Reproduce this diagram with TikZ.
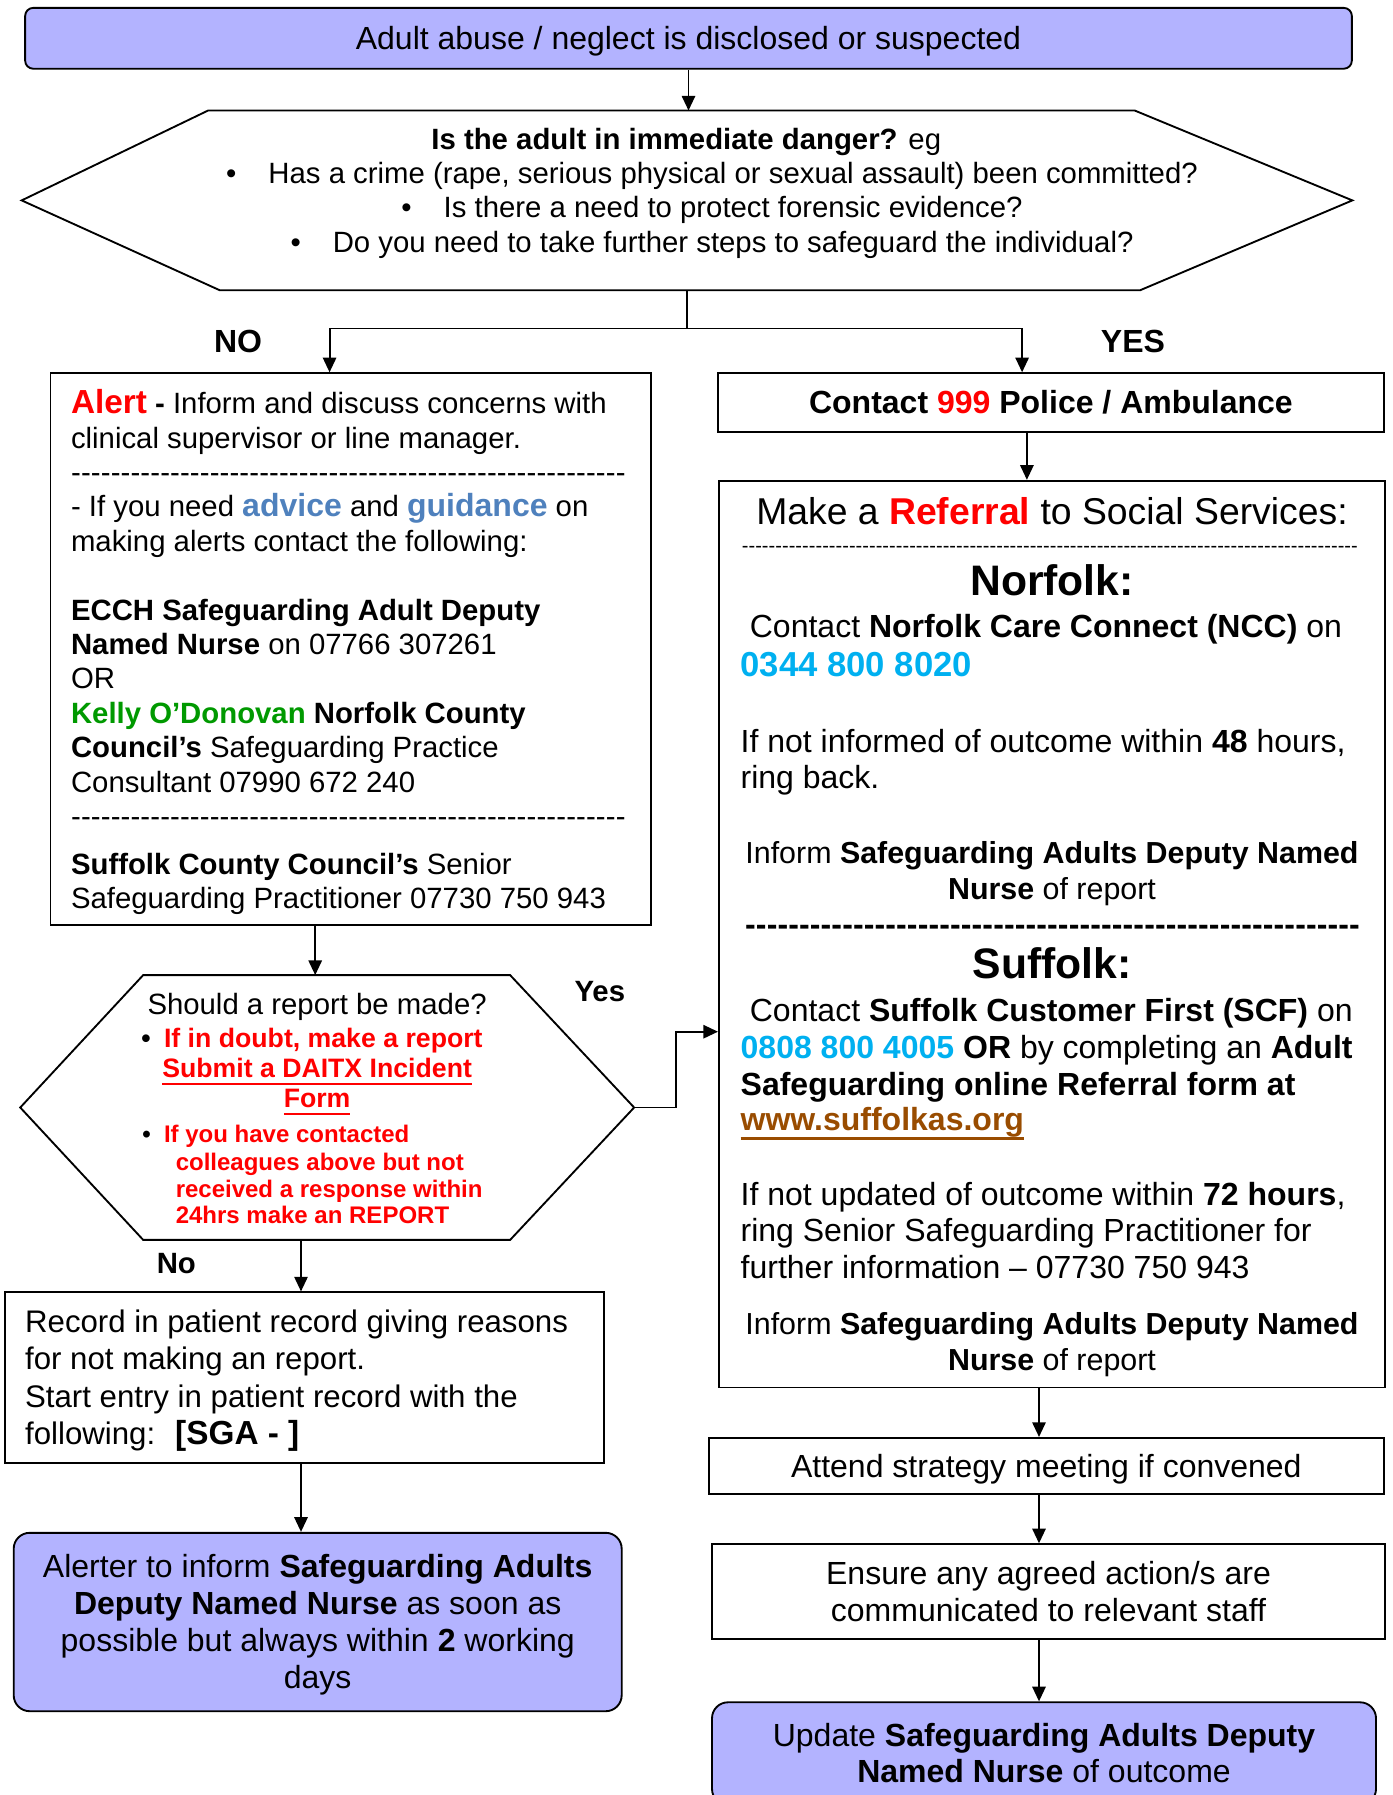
\documentclass[tikz,border=0pt]{standalone}
\usepackage{fontspec}
\setmainfont{Liberation Sans}
\usetikzlibrary{arrows.meta}
\setlength{\parindent}{0pt}

\definecolor{lavender}{RGB}{179,179,255}
\definecolor{alertred}{RGB}{255,0,0}
\definecolor{adviceblue}{RGB}{79,129,189}
\definecolor{kellygreen}{RGB}{0,153,0}
\definecolor{phonecyan}{RGB}{0,176,240}
\definecolor{linkbrown}{RGB}{153,76,0}

\newsavebox{\ulsave}
\newcommand{\midline}[2][\hsize]{\makebox[#1]{#2}}
\newcommand{\dashrow}[1]{\makebox[#1][l]{\xleaders\hbox{-}\hfill}}
\newcommand{\ulbar}[2]{\leavevmode\sbox\ulsave{#2}\rlap{\rule[#1]{\wd\ulsave}{0.9pt}}\usebox\ulsave}
\newcommand{\hang}[1]{\leavevmode\llap{\color{black}\textbullet\hspace{#1}}}
\newcommand{\wtop}{\rule{0pt}{0.905em}}
\newcommand{\wbot}{\rule[-0.212em]{0pt}{0.212em}}

\begin{document}
\begin{tikzpicture}[
        x=0.375pt, y=-0.375pt,
        box/.style={draw, line width=0.7pt, inner sep=0pt},
        softbox/.style={box, fill=lavender, rounded corners=6pt},
        arr/.style={-{Triangle[length=5.5pt,width=5pt]}, line width=0.7pt},
        answer/.style={font=\fontsize{12}{14}\selectfont\bfseries}
    ]
    \clip (0,0) rectangle (1392,1795);

    % top of the chart
    \node[softbox, rounded corners=3pt, minimum width=497.5pt, minimum height=22.8pt,
        font=\fontsize{12}{14}\selectfont] (start) at (688.5,38.3)
        {\wtop Adult abuse / neglect is disclosed or suspected\wbot};

    \node[minimum width=498.6pt, minimum height=67pt, inner sep=0pt] (danger) at (687,200.4) {};
    \draw[line width=0.7pt] (danger.west) -- ([xshift=69.9pt]danger.north west)
        -- ([xshift=-81.6pt]danger.north east) -- (danger.east)
        -- ([xshift=-79.6pt]danger.south east) -- ([xshift=74.3pt]danger.south west) -- cycle;
    \node[text width=400pt, align=flush center, font=\fontsize{11}{12.9}\selectfont] (dangertxt) at (712,190.5)
        {\wtop\textbf{Is the adult in immediate danger?} eg\hspace*{19.3pt}\mbox{}\\
         \textbullet\hspace{12pt}Has a crime (rape, serious physical or sexual assault) been committed?\\
         \textbullet\hspace{12pt}Is there a need to protect forensic evidence?\\
         \textbullet\hspace{12pt}Do you need to take further steps to safeguard the individual?\wbot};

    \draw[arr] (start.south) -- (start.south |- danger.north);
    \node[answer] (no) at (238,341) {NO};
    \node[answer] (yes) at (1133,341) {YES};

    % left column
    \node[box, minimum width=225.3pt, minimum height=206.9pt, text width=209.9pt, align=flush left,
        font=\fontsize{11}{12.9}\selectfont] (alert) at (350.9,649.1)
        {{\fontsize{12.5}{12.9}\selectfont\wtop\bfseries\color{alertred}Alert} \textbf{-} Inform and discuss concerns with\\
         clinical supervisor or line manager.\\
         \dashrow{208pt}\\
         - If you need {\fontsize{12}{12.9}\selectfont\bfseries\color{adviceblue}advice} and
         {\fontsize{12}{12.9}\selectfont\bfseries\color{adviceblue}guidance} on\\
         making alerts contact the following:\\[12.9pt]
         \textbf{ECCH Safeguarding Adult Deputy}\\
         \textbf{Named Nurse} on 07766 307261\\
         OR\\
         {\bfseries\color{kellygreen}Kelly O’Donovan} \textbf{Norfolk County}\\
         \textbf{Council’s} Safeguarding Practice\\
         Consultant 07990 672 240\\
         \dashrow{208pt}\\[5pt]
         \textbf{Suffolk County Council’s} Senior\\
         Safeguarding Practitioner 07730 750 943\wbot};

    \node[minimum width=229.8pt, minimum height=98.9pt, inner sep=0pt] (report) at (327.2,1107.5) {};
    \draw[line width=0.7pt] (report.west) -- ([xshift=46.1pt]report.north west)
        -- ([xshift=-46.5pt]report.north east) -- (report.east)
        -- ([xshift=-46.5pt]report.south east) -- ([xshift=46.1pt]report.south west) -- cycle;
    \node[text width=140pt, align=flush left, font=\fontsize{9}{10}\selectfont] (reporttxt) at (350.7,1108.2)
        {\midline[114.8pt]{\fontsize{11}{10}\selectfont\wtop Should a report be made?}\\[2.6pt]
         \bfseries\color{alertred}%
         {\fontsize{10}{10}\selectfont\hang{5pt}If in doubt, make a report}\\[1.1pt]
         \midline[114.8pt]{\fontsize{10}{10}\selectfont\ulbar{-2.9pt}{Submit a DAITX Incident}}\\[1.25pt]
         \midline[114.8pt]{\fontsize{10}{10}\selectfont\ulbar{-2.9pt}{Form}}\\[3.1pt]
         {\fontsize{9}{10}\selectfont\hang{5pt}}If you have contacted\\[0.65pt]
         \hspace*{4.4pt}colleagues above but not\\
         \hspace*{4.4pt}received a response within\\
         \hspace*{4.4pt}24hrs make an REPORT\wbot};

    \coordinate (reporttop) at ([xshift=-4.5pt]report.north);
    \draw[arr] (alert.south -| reporttop) -- (reporttop);
    \node[font=\fontsize{11}{13}\selectfont\bfseries] (yeslbl) at (599.8,991.3) {Yes};
    \node[font=\fontsize{11}{13}\selectfont\bfseries] (nolbl) at (176.3,1263.8) {No};

    \node[box, minimum width=224.9pt, minimum height=64pt, text width=209.5pt, align=flush left,
        font=\fontsize{11.7}{14}\selectfont] (record) at (304.5,1377.7)
        {\wtop Record in patient record giving reasons\\
         for not making an report.\\
         Start entry in patient record with the\\
         following:\hspace{7.5pt}{\fontsize{12.5}{14}\selectfont\bfseries [SGA - ]}\wbot};

    \node[softbox, minimum width=228pt, minimum height=66.9pt, text width=220pt, align=flush center,
        font=\fontsize{12}{13.9}\selectfont] (alerter) at (317.7,1622)
        {\wtop Alerter to inform \textbf{Safeguarding Adults}\\
         \textbf{Deputy Named Nurse} as soon as\\
         possible but always within \textbf{2} working\\
         days\wbot};

    \coordinate (leftaxis) at (301,0);
    \draw[arr] (report.south -| leftaxis) -- (record.north -| leftaxis);
    \draw[arr] (record.south -| leftaxis) -- (alerter.north -| leftaxis);

    % right column
    \node[box, minimum width=249.9pt, minimum height=21.9pt, font=\fontsize{12}{14}\selectfont\bfseries]
        (police) at (1050.9,402.4) {\wtop Contact {\color{alertred}999} Police / Ambulance\wbot};

    \node[box, minimum width=249.8pt, minimum height=340pt, text width=236pt, align=flush left,
        font=\fontsize{12}{13.7}\selectfont] (referral) at (1052,934.1)
        {\midline{\fontsize{14}{13.7}\selectfont\wtop Make a {\bfseries\color{alertred}Referral} to Social Services:}\\[-3.4pt]
         \hspace*{1.7pt}{\fontsize{7.5}{13.7}\selectfont\dashrow{231pt}}\\[2.6pt]
         \midline{\fontsize{16}{13.7}\selectfont\bfseries Norfolk:}\\[2.2pt]
         \hspace*{4.7pt}Contact \textbf{Norfolk Care Connect (NCC)} on\\[0.9pt]
         \hspace*{1.25pt}{\fontsize{13}{13.7}\selectfont\bfseries\color{phonecyan}0344 800 8020}\\[14.6pt]
         \hspace*{1.25pt}If not informed of outcome within \textbf{48} hours,\\
         \hspace*{1.25pt}ring back.\\[14.2pt]
         \midline{\fontsize{11.4}{13.7}\selectfont Inform \textbf{Safeguarding Adults Deputy Named}}\\
         \midline{\fontsize{11.4}{13.7}\selectfont\textbf{Nurse} of report}\\[-0.4pt]
         \hspace*{2.9pt}{\bfseries\dashrow{230.6pt}}\\[2.6pt]
         \midline{\fontsize{16}{13.7}\selectfont\bfseries Suffolk:}\\[2.2pt]
         \hspace*{4.7pt}Contact \textbf{Suffolk Customer First (SCF)} on\\[0.5pt]
         \hspace*{1.25pt}{\bfseries\color{phonecyan}0808 800 4005} \textbf{OR} by completing an \textbf{Adult}\\
         \hspace*{1.25pt}\textbf{Safeguarding online Referral form at}\\[-0.4pt]
         \hspace*{1.25pt}{\bfseries\color{linkbrown}\ulbar{-3.2pt}{www.suffolkas.org}}\\[14.2pt]
         \hspace*{1.25pt}If not updated of outcome within \textbf{72 hours},\\
         \hspace*{1.25pt}ring Senior Safeguarding Practitioner for\\
         \hspace*{1.25pt}further information – 07730 750 943\\[7.3pt]
         \midline{\fontsize{11.4}{13.7}\selectfont Inform \textbf{Safeguarding Adults Deputy Named}}\\
         \midline{\fontsize{11.4}{13.7}\selectfont\textbf{Nurse} of report\wbot}};

    % the two answers of the first question
    \coordinate (split) at (687,328.5);
    \draw[line width=0.7pt] (danger.south) -- (split);
    \draw[arr] (split) -| ([xshift=-8pt]alert.north);
    \draw[arr] (split) -| ([xshift=-10.8pt]police.north);

    \draw[arr] ([xshift=-9pt]police.south) -- ([xshift=-9pt]police.south |- referral.north);
    \draw[arr] (report.east) -- ++(42,0) |- ([yshift=-36.6pt]referral.west);

    \node[box, minimum width=253.3pt, minimum height=21pt, font=\fontsize{12}{14}\selectfont]
        (attend) at (1046.3,1465.9) {\wtop Attend strategy meeting if convened\wbot};
    \node[box, minimum width=252.4pt, minimum height=35.6pt, align=center,
        font=\fontsize{12}{13.7}\selectfont] (ensure) at (1048.5,1591.7)
        {\wtop Ensure any agreed action/s are\\communicated to relevant staff\wbot};
    \node[softbox, minimum width=249pt, minimum height=38.5pt, align=center,
        font=\fontsize{12}{13.7}\selectfont] (update) at (1044,1753.6)
        {\wtop Update \textbf{Safeguarding Adults Deputy}\\\textbf{Named Nurse} of outcome\wbot};

    \coordinate (rightaxis) at (1039,0);
    \draw[arr] (referral.south -| rightaxis) -- (attend.north -| rightaxis);
    \draw[arr] (attend.south -| rightaxis) -- (ensure.north -| rightaxis);
    \draw[arr] (ensure.south -| rightaxis) -- (update.north -| rightaxis);
\end{tikzpicture}
\end{document}
